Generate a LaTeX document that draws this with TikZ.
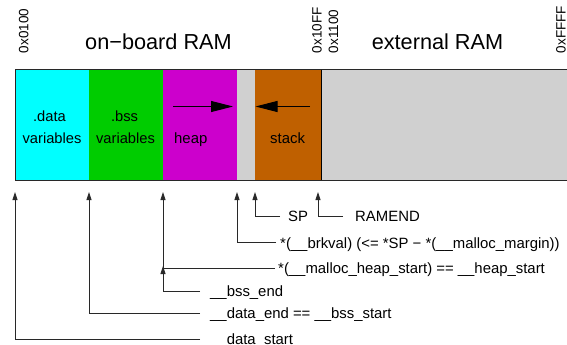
\documentclass[tikz,border=0pt]{standalone}
\usepackage{fontspec}
\setmainfont{Liberation Sans}
\usetikzlibrary{arrows.meta}
\definecolor{cdata}{RGB}{0,255,255}
\definecolor{cbss}{RGB}{0,204,0}
\definecolor{cheap}{RGB}{204,0,204}
\definecolor{cfree}{RGB}{208,208,208}
\definecolor{cstack}{RGB}{191,96,0}
\definecolor{cline}{RGB}{40,40,40}
\begin{document}
\begin{tikzpicture}[x=1pt,y=-1pt,
  lbl/.style={inner sep=0pt, anchor=base west, font=\fontsize{14.9}{17}\selectfont},
  boxtxt/.style={inner sep=0pt, anchor=base, font=\fontsize{14.7}{17}\selectfont},
  bigtxt/.style={inner sep=0pt, anchor=base, font=\fontsize{21.7}{24}\selectfont},
  addr/.style={inner sep=0pt, anchor=base west, rotate=90, font=\fontsize{13.5}{15}\selectfont},
  conn/.style={draw=cline, line width=0.9pt, -{Triangle[length=8pt,width=5pt]}},
  growarrow/.style={draw=black, line width=1pt, -{Triangle[length=22pt,width=11pt]}}]
\useasboundingbox (0,0) rectangle (567,345);
% memory bar
\fill[cdata] (15,69.5) rectangle (89,180);
\fill[cbss] (89,69.5) rectangle (163,180);
\fill[cheap] (163,69.5) rectangle (237,180);
\fill[cfree] (237,69.5) rectangle (255,180);
\fill[cstack] (255,69.5) rectangle (321,180);
\fill[cfree] (321,69.5) rectangle (567,180);
\draw[cline, line width=1pt] (567,69.5) -- (15,69.5) -- (15,180) -- (567,180);
\draw[black, line width=0.8pt] (321,69.5) -- (321,180);
% headings
\node[bigtxt] (onboard) at (158.5,49) {on−board RAM};
\node[bigtxt] (external) at (437.5,49) {external RAM};
\node[addr] (a0100) at (28.3,53.3) {0x0100};
\node[addr] (a10ff) at (321.7,53.3) {0x10FF};
\node[addr] (a1100) at (338,53.3) {0x1100};
\node[addr] (affff) at (565.5,53.3) {0xFFFF};
% texts in the bar
\node[boxtxt] (data1) at (49.5,121.7) {.data};
\node[boxtxt] (data2) at (52,143.5) {variables};
\node[boxtxt] (bss1) at (124.5,121.7) {.bss};
\node[boxtxt] (bss2) at (125.5,143.5) {variables};
\node[lbl] (heap) at (174,143.5) {heap};
\node[lbl] (stack) at (270,143.5) {stack};
% growth arrows
\coordinate (hs) at (173,106.5);
\coordinate (he) at (233,106.5);
\coordinate (ss) at (310,106.5);
\coordinate (se) at (255.5,106.5);
\draw[growarrow] (hs) -- (he);
\draw[growarrow] (ss) -- (se);
% pointer labels
\node[lbl] (lsp) at (288,221.7) {SP};
\node[lbl] (lramend) at (355,221.7) {RAMEND};
\node[lbl] (lbrk) at (280,248) {*(\_\_brkval) (<= *SP − *(\_\_malloc\_margin))};
\node[lbl] (lmal) at (278,273.5) {*(\_\_malloc\_heap\_start) == \_\_heap\_start};
\node[lbl] (lbss) at (210,296) {\_\_bss\_end};
\node[lbl] (ldend) at (210,318.5) {\_\_data\_end == \_\_bss\_start};
\node[lbl] (ldstart) at (210,344.5) {\_\_data\_start};
% tips and line ends
\coordinate (tsp) at (255,192);
\coordinate (esp) at (280,216.7);
\coordinate (tram) at (318,192);
\coordinate (eram) at (343,216.7);
\coordinate (tbrk) at (237,192);
\coordinate (ebrk) at (276,242.7);
\coordinate (tmal) at (163,192);
\coordinate (emal) at (275,268.3);
\coordinate (tbss) at (163,266);
\coordinate (ebss) at (200,291);
\coordinate (tdend) at (89,192);
\coordinate (edend) at (200,313.3);
\coordinate (tdstart) at (15,192);
\coordinate (edstart) at (200,339.3);
\draw[conn] (esp) -| (tsp);
\draw[conn] (eram) -| (tram);
\draw[conn] (ebrk) -| (tbrk);
\draw[conn] (emal) -| (tmal);
\draw[conn] (ebss) -| (tbss);
\draw[conn] (edend) -| (tdend);
\draw[conn] (edstart) -| (tdstart);
\end{tikzpicture}
\end{document}
